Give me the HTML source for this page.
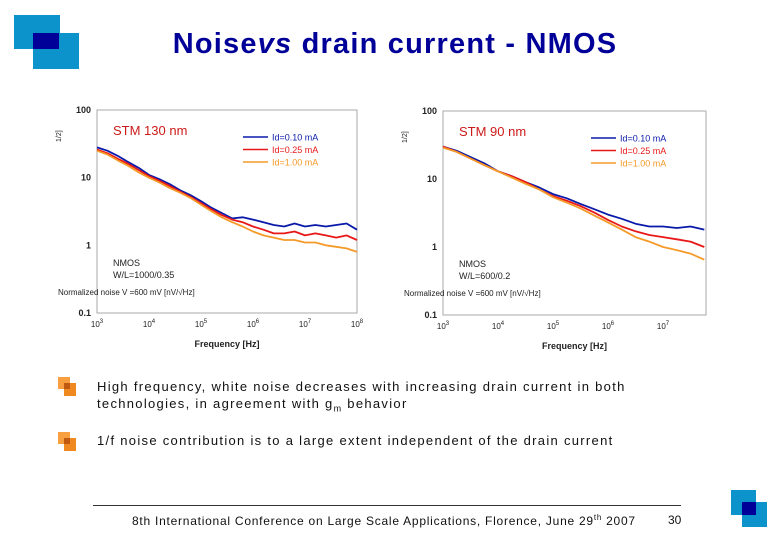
<!DOCTYPE html>
<html><head><meta charset="utf-8"><style>
body{margin:0;width:780px;height:540px;background:#fff;position:relative;overflow:hidden;font-family:"Liberation Sans",Verdana,sans-serif}
.a{position:absolute}
.t{font-size:13px;color:#111;letter-spacing:1.3px}
</style></head><body>
<div class="a" style="left:0;top:0">
<div class="a" style="left:14px;top:15px;width:46px;height:34px;background:#0d93cc"></div>
<div class="a" style="left:33px;top:33px;width:46px;height:36px;background:#0d93cc"></div>
<div class="a" style="left:33px;top:33px;width:26px;height:16px;background:#000099"></div>
</div>
<div class="a" style="left:0;width:790px;top:28px;text-align:center;font-size:29px;font-weight:bold;color:#000099;letter-spacing:1.2px">Noise<i>vs</i> drain current - NMOS</div>

<svg class="a" style="left:0;top:0" width="780" height="360" font-family="Liberation Sans, sans-serif">
<g id="c1"></g>
<g id="c2"></g>
</svg>

<div class="a" style="left:58px;top:377px"><div class="a" style="width:12px;height:12px;background:#f8a040"></div><div class="a" style="left:6px;top:6px;width:12px;height:13px;background:#f08a20"></div><div class="a" style="left:6px;top:6px;width:6px;height:6px;background:#c05a10"></div></div>
<div class="a t" style="left:97px;top:378px;line-height:17px">High frequency, white noise decreases with increasing drain current in both<br>technologies, in agreement with g<sub style="font-size:9px">m</sub> behavior</div>
<div class="a" style="left:58px;top:432px"><div class="a" style="width:12px;height:12px;background:#f8a040"></div><div class="a" style="left:6px;top:6px;width:12px;height:13px;background:#f08a20"></div><div class="a" style="left:6px;top:6px;width:6px;height:6px;background:#c05a10"></div></div>
<div class="a t" style="left:97px;top:433px">1/f noise contribution is to a large extent independent of the drain current</div>

<div class="a" style="left:93px;top:505px;width:588px;height:1px;background:#333"></div>
<div class="a" style="left:132px;top:513px;font-size:12px;color:#111;letter-spacing:0.75px">8th International Conference on Large Scale Applications, Florence, June 29<sup style="font-size:8px">th</sup> 2007</div>
<div class="a" style="left:668px;top:513px;font-size:12px;color:#111">30</div>
<div class="a" style="left:0;top:0">
<div class="a" style="left:731px;top:490px;width:25px;height:25px;background:#0d93cc"></div>
<div class="a" style="left:742px;top:502px;width:25px;height:25px;background:#0d93cc"></div>
<div class="a" style="left:742px;top:502px;width:14px;height:13px;background:#000099"></div>
</div>

<script>
// Chart 1: STM 130 nm
const freqLog1=[3,3.2,3.4,3.6,3.8,4,4.2,4.4,4.6,4.8,5,5.2,5.4,5.6,5.8,6,6.2,6.4,6.6,6.8,7,7.2,7.4,7.6,7.8,8];
const blue1=[28,25,21,17,14,11,9.5,8,6.5,5.5,4.5,3.6,3.0,2.5,2.6,2.4,2.2,2.0,1.9,2.1,1.9,2.0,1.9,2.0,2.1,1.7];
const red1=[26,23,19,16,13,10.5,9,7.5,6.2,5.2,4.2,3.4,2.8,2.4,2.2,1.9,1.7,1.5,1.5,1.6,1.4,1.5,1.4,1.3,1.4,1.2];
const orange1=[25,22,18,15,12,10,8.5,7,6,5,4,3.2,2.6,2.2,1.9,1.6,1.4,1.3,1.2,1.2,1.1,1.1,1.0,0.95,0.9,0.8];
const xTicks1=["3","4","5","6","7","8"];
// Chart 2: STM 90 nm
const freqLog2=[3,3.25,3.5,3.75,4,4.25,4.5,4.75,5,5.25,5.5,5.75,6,6.25,6.5,6.75,7,7.25,7.5,7.75];
const blue2=[30,26,21,17,13,11,9,7.5,6,5.2,4.3,3.6,3.0,2.6,2.2,2.0,2.0,1.9,2.0,1.8];
const red2=[30,25,20,16,13,11,9,7,5.6,4.8,4,3.2,2.5,2.0,1.7,1.5,1.4,1.3,1.2,1.0];
const orange2=[29,25,20,16,13,10.5,8.5,7,5.4,4.5,3.7,2.9,2.3,1.8,1.4,1.2,1.0,0.9,0.8,0.65];
const xTicks2=["3","4","5","6","7"];
const yTicks=["100","10","1","0.1"];
const legendLabels=["Id=0.10 mA","Id=0.25 mA","Id=1.00 mA"];
const colors=["#0a1aa8","#e81818","#f59a28"];
const NS="http://www.w3.org/2000/svg";
function mk(p,tag,at){const e=document.createElementNS(NS,tag);for(const k in at)e.setAttribute(k,at[k]);p.appendChild(e);return e;}
function draw(g,o){
  const X=v=>o.x0+(v-o.lmin)*o.dec, Y=v=>o.y0+(2-Math.log10(v))*(o.y1-o.y0)/3;
  const fr=mk(g,'rect',{x:o.x0,y:o.y0,width:o.xr-o.x0,height:o.y1-o.y0,fill:'none',stroke:'#aaa','stroke-width':1});
  
  o.xt.forEach(t=>{const e=+t;const x=X(e);
    const tx=mk(g,'text',{x:x,y:o.y1+14,'font-size':8,'text-anchor':'middle',fill:'#222'});
    
    tx.textContent='10';const s=mk(tx,'tspan',{dy:-4,'font-size':6});s.textContent=t;});
  yTicks.forEach(t=>{const y=Y(+t);
    const tx=mk(g,'text',{x:o.x0-6,y:y+3,'font-size':9,'font-weight':'bold','text-anchor':'end',fill:'#222'});
    tx.textContent=t;});
  o.series.forEach((s,i)=>{const pts=o.fx.map((f,j)=>X(f).toFixed(1)+','+Y(s[j]).toFixed(1)).join(' ');
    const pl=mk(g,'polyline',{points:pts,fill:'none',stroke:colors[i],'stroke-width':1.8,'stroke-linejoin':'round'});
    });
  legendLabels.forEach((l,i)=>{const y=o.y0+27+i*12.5;
    mk(g,'line',{x1:o.lx,x2:o.lx+25,y1:y,y2:y,stroke:colors[i],'stroke-width':1.6});
    const tx=mk(g,'text',{x:o.lx+29,y:y+3.5,'font-size':9,fill:colors[i]});
    tx.textContent=l;});
  const ti=mk(g,'text',{x:o.x0+16,y:o.y0+25,'font-size':13,fill:'#cc1a1a'});
  ti.textContent=o.title;
  const xl=mk(g,'text',{x:(o.x0+o.xr)/2,y:o.y1+34,'font-size':9,'font-weight':'bold','text-anchor':'middle',fill:'#222'});
  xl.textContent='Frequency  [Hz]';
  const yl=mk(g,'text',{x:0,y:0,'font-size':7,fill:'#222',transform:`translate(${o.x0-36},${o.y0+32}) rotate(-90)`});
  yl.textContent='1/2]';
  [['NMOS',156],[o.wl,168]].forEach(([t,dy])=>{const e=mk(g,'text',{x:o.x0+16,y:o.y0+dy,'font-size':9,fill:'#222'});
    e.textContent=t;});
  const gb=mk(g,'text',{x:o.x0-39,y:o.y0+185,'font-size':8,fill:'#222'});
  gb.textContent='Normalized noise  V  =600 mV  [nV/√Hz]';
}
draw(document.getElementById('c1'),{x0:97,xr:357,y0:110,y1:313,lmin:3,dec:52,xt:xTicks1,fx:freqLog1,series:[blue1,red1,orange1],lx:243,title:'STM 130 nm',wl:'W/L=1000/0.35'});
draw(document.getElementById('c2'),{x0:443,xr:706,y0:111,y1:315,lmin:3,dec:55,xt:xTicks2,fx:freqLog2,series:[blue2,red2,orange2],lx:591,title:'STM 90 nm',wl:'W/L=600/0.2'});
</script>
</body></html>
